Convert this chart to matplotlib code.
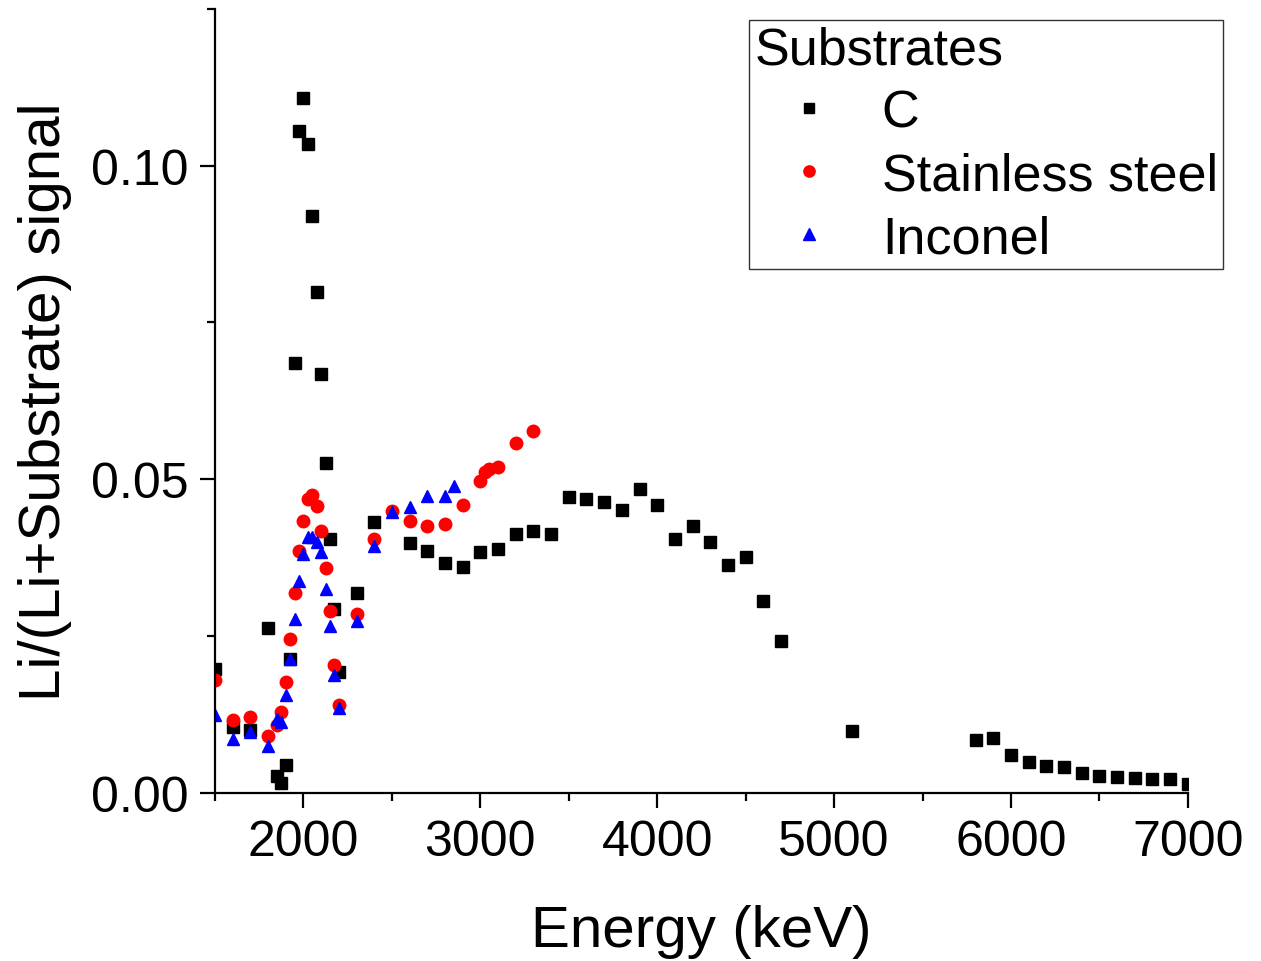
import matplotlib
matplotlib.use("Agg")
import matplotlib.pyplot as plt
from matplotlib.ticker import MultipleLocator

plt.rcParams['font.family'] = ['Liberation Sans', 'DejaVu Sans']

# Substrate C
c_energy = [1500, 1600, 1700, 1800, 1850, 1875, 1900, 1925, 1950, 1975, 2000, 2025,
            2050, 2075, 2100, 2125, 2150, 2175, 2200, 2300, 2400, 2600, 2700, 2800,
            2900, 3000, 3100, 3200, 3300, 3400, 3500, 3600, 3700, 3800, 3900, 4000,
            4100, 4200, 4300, 4400, 4500, 4600, 4700, 5100, 5800, 5900, 6000, 6100,
            6200, 6300, 6400, 6500, 6600, 6700, 6800, 6900, 7000]
c_ratio = [0.0197, 0.0104, 0.0100, 0.0263, 0.0026, 0.0016, 0.0044, 0.0213, 0.0685,
           0.1056, 0.1108, 0.1034, 0.0920, 0.0799, 0.0668, 0.0526, 0.0404, 0.0293,
           0.0192, 0.0319, 0.0432, 0.0398, 0.0386, 0.0366, 0.0360, 0.0383, 0.0388,
           0.0412, 0.0417, 0.0412, 0.0472, 0.0468, 0.0464, 0.0450, 0.0484, 0.0458,
           0.0405, 0.0425, 0.0399, 0.0363, 0.0375, 0.0305, 0.0241, 0.0098, 0.0084,
           0.0087, 0.0060, 0.0048, 0.0042, 0.0041, 0.0031, 0.0027, 0.0025, 0.0023,
           0.0022, 0.0021, 0.0013]

# Stainless steel
ss_energy = [1500, 1600, 1700, 1800, 1850, 1875, 1900, 1925, 1950, 1975, 2000, 2025,
             2050, 2075, 2100, 2125, 2150, 2175, 2200, 2300, 2400, 2500, 2600, 2700,
             2800, 2900, 3000, 3025, 3050, 3100, 3200, 3300]
ss_ratio = [0.0179, 0.0116, 0.0120, 0.0091, 0.0107, 0.0128, 0.0177, 0.0245, 0.0319,
            0.0386, 0.0434, 0.0469, 0.0475, 0.0457, 0.0418, 0.0358, 0.0290, 0.0204,
            0.0140, 0.0285, 0.0405, 0.0449, 0.0433, 0.0426, 0.0428, 0.0459, 0.0497,
            0.0512, 0.0516, 0.0519, 0.0558, 0.0577]

# Inconel
inc_energy = [1500, 1600, 1700, 1800, 1850, 1875, 1900, 1925, 1950, 1975, 2000, 2025,
              2050, 2075, 2100, 2125, 2150, 2175, 2200, 2300, 2400, 2500, 2600, 2700,
              2800, 2850]
inc_ratio = [0.0123, 0.0085, 0.0097, 0.0075, 0.0117, 0.0112, 0.0155, 0.0213, 0.0277,
             0.0337, 0.0381, 0.0408, 0.0408, 0.0400, 0.0383, 0.0325, 0.0265, 0.0188,
             0.0135, 0.0273, 0.0394, 0.0448, 0.0455, 0.0473, 0.0473, 0.0489]

fig = plt.figure(figsize=(12.61, 9.62), dpi=100)
ax = fig.add_axes([0.1705, 0.1751, 0.7715, 0.8145])

ax.plot(c_energy, c_ratio, linestyle='none', marker='s', ms=8, color='black', label='C')
ax.plot(ss_energy, ss_ratio, linestyle='none', marker='o', ms=9, color='#ff0000',
        label='Stainless steel')
ax.plot(inc_energy, inc_ratio, linestyle='none', marker='^', ms=9, color='#0000ff',
        label='Inconel')

ax.set_xlim(1500, 7000)
ax.set_ylim(0, 0.125)
ax.xaxis.set_major_locator(MultipleLocator(1000))
ax.xaxis.set_minor_locator(MultipleLocator(500))
ax.yaxis.set_major_locator(MultipleLocator(0.05))
ax.yaxis.set_minor_locator(MultipleLocator(0.025))
ax.yaxis.set_major_formatter(matplotlib.ticker.FormatStrFormatter('%.2f'))

for s in ['top', 'right']:
    ax.spines[s].set_visible(False)
for s in ['left', 'bottom']:
    ax.spines[s].set_linewidth(1.6)

ax.tick_params(which='major', direction='out', length=11, width=1.6, labelsize=36, pad=8)
ax.tick_params(which='minor', direction='out', length=6, width=1.6)

ax.set_xlabel('Energy (keV)', fontsize=42, labelpad=28)
ax.set_ylabel('Li/(Li+Substrate) signal', fontsize=42, labelpad=14)

leg = ax.legend(title='Substrates', loc='upper right', bbox_to_anchor=(0.970, 0.978),
                bbox_transform=fig.transFigure, borderaxespad=0, fontsize=37.5,
                title_fontsize=37.5, frameon=True, fancybox=False, edgecolor='black',
                markerscale=0.9, handlelength=2.1, handletextpad=0.35, borderpad=0.1,
                labelspacing=0.27, alignment='left')
leg.get_frame().set_linewidth(1.0)

fig.savefig('out.png', dpi=100)
